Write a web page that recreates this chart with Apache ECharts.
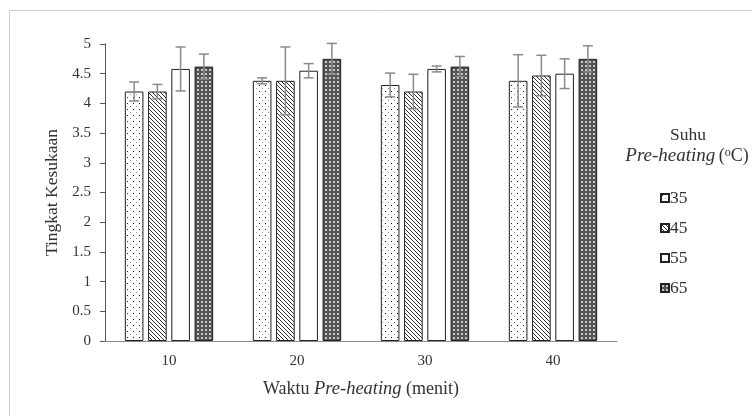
<!DOCTYPE html>
<html>
<head>
<meta charset="utf-8">
<script src="https://cdn.jsdelivr.net/npm/echarts@6/dist/echarts.min.js"></script>
<style>
  html, body { margin: 0; padding: 0; background: #fff; }
  #main { width: 752px; height: 416px; }
</style>
</head>
<body>
<div id="main"></div>
<script>
var categories = ['10', '20', '30', '40'];
var seriesNames = ['35', '45', '55', '65'];
// mean values per temperature, one entry per time category
var val35 = [4.2, 4.38, 4.31, 4.38];
var val45 = [4.2, 4.38, 4.2, 4.47];
var val55 = [4.58, 4.55, 4.58, 4.5];
var val65 = [4.62, 4.75, 4.62, 4.75];
// standard deviation (error bar half length)
var err35 = [0.16, 0.05, 0.2, 0.44];
var err45 = [0.12, 0.57, 0.29, 0.34];
var err55 = [0.37, 0.12, 0.05, 0.25];
var err65 = [0.21, 0.26, 0.17, 0.22];
var yTicks = ['0', '0.5', '1', '1.5', '2', '2.5', '3', '3.5', '4', '4.5', '5'];

var values = [val35, val45, val55, val65];
var errors = [err35, err45, err55, err65];

var FONT = '"Liberation Serif", "DejaVu Serif", serif';
var CAT_GAP = 0.31, BAR_GAP = 0.25;

function makePattern(size, draw) {
    var c = document.createElement('canvas');
    c.width = size; c.height = size;
    var ctx = c.getContext('2d');
    draw(ctx, size);
    return { image: c, repeat: 'repeat' };
}

var patterns = [
    // dotted
    makePattern(6, function (ctx, s) {
        ctx.fillStyle = '#fff'; ctx.fillRect(0, 0, s, s);
        ctx.fillStyle = '#111'; ctx.fillRect(1, 1, 1, 1);
        ctx.fillStyle = '#999'; ctx.fillRect(4, 4, 1, 1);
    }),
    // diagonal hatch "\"
    makePattern(4, function (ctx, s) {
        ctx.fillStyle = '#fff'; ctx.fillRect(0, 0, s, s);
        ctx.strokeStyle = '#333'; ctx.lineWidth = 1;
        ctx.beginPath();
        ctx.moveTo(-1, -1); ctx.lineTo(s + 1, s + 1);
        ctx.moveTo(-s - 1, -1); ctx.lineTo(1, s + 1);
        ctx.moveTo(s - 1, -s - 1); ctx.lineTo(2 * s + 1, s + 1);
        ctx.stroke();
    }),
    '#ffffff',
    // dark plaid
    makePattern(4, function (ctx, s) {
        ctx.fillStyle = '#555'; ctx.fillRect(0, 0, s, s);
        ctx.fillStyle = '#c4c4c4'; ctx.fillRect(1, 1, 2, 2);
    })
];

var barSeries = seriesNames.map(function (name, i) {
    return {
        name: name,
        type: 'bar',
        data: values[i],
        barGap: (BAR_GAP * 100) + '%',
        barCategoryGap: (CAT_GAP * 100) + '%',
        itemStyle: { color: patterns[i], borderColor: '#222', borderWidth: 1 },
        emphasis: { disabled: true }
    };
});

var errData = [];
values.forEach(function (arr, s) {
    arr.forEach(function (v, c) {
        errData.push([c, s, v, errors[s][c]]);
    });
});

var errorSeries = {
    type: 'custom',
    name: 'err',
    z: 10,
    encode: { x: 0, y: 2 },
    data: errData,
    renderItem: function (params, api) {
        var c = api.value(0), s = api.value(1), m = api.value(2), e = api.value(3);
        var mid = api.coord([c, m]);
        var top = api.coord([c, m + e]);
        var bot = api.coord([c, m - e]);
        var band = api.size([1, 0])[0];
        var total = band * (1 - CAT_GAP);
        var w = total / (4 + 3 * BAR_GAP);
        var x = mid[0] - total / 2 + s * w * (1 + BAR_GAP) + w / 2;
        var st = { stroke: '#8a8a8a', lineWidth: 1.5 };
        return {
            type: 'group',
            children: [
                { type: 'line', shape: { x1: x, y1: top[1], x2: x, y2: bot[1] }, style: st },
                { type: 'line', shape: { x1: x - 5, y1: top[1], x2: x + 5, y2: top[1] }, style: st },
                { type: 'line', shape: { x1: x - 5, y1: bot[1], x2: x + 5, y2: bot[1] }, style: st }
            ]
        };
    }
};

var chart = echarts.init(document.getElementById('main'));
chart.setOption({
    animation: false,
    backgroundColor: '#fff',
    textStyle: { fontFamily: FONT },
    grid: { left: 105, right: 135, top: 44, bottom: 75 },
    legend: {
        data: seriesNames,
        orient: 'vertical',
        left: 655,
        top: 184,
        itemWidth: 8,
        itemHeight: 8,
        itemGap: 12,
        icon: 'rect',
        textStyle: { fontFamily: FONT, fontSize: 17.5, color: '#333', padding: [0, 0, 0, -4] }
    },
    xAxis: {
        type: 'category',
        data: categories,
        axisLine: { lineStyle: { color: '#8a8a8a' } },
        axisTick: { show: false },
        axisLabel: { fontFamily: FONT, fontSize: 15, color: '#333', margin: 13 },
        name: '{n|Waktu }{i|Pre-heating}{n| (menit)}',
        nameLocation: 'middle',
        nameGap: 39,
        nameTextStyle: {
            rich: {
                n: { fontFamily: FONT, fontSize: 18, color: '#333' },
                i: { fontFamily: FONT, fontSize: 18.5, color: '#333', fontStyle: 'italic' }
            }
        }
    },
    yAxis: {
        type: 'value',
        min: 0,
        max: 5,
        interval: 0.5,
        axisLine: { show: true, lineStyle: { color: '#555' } },
        axisTick: { show: true, length: 5, lineStyle: { color: '#555' } },
        splitLine: { show: false },
        axisLabel: {
            fontFamily: FONT, fontSize: 15, color: '#333', margin: 14,
            formatter: function (v) {
                var s = String(Math.round(v * 10) / 10);
                return yTicks.indexOf(s) >= 0 ? s : '';
            }
        },
        name: 'Tingkat Kesukaan',
        nameLocation: 'middle',
        nameRotate: 90,
        nameGap: 44,
        nameTextStyle: { fontFamily: FONT, fontSize: 17.5, color: '#333' }
    },
    graphic: [
        {
            type: 'polyline',
            shape: { points: [[9.5, 416], [9.5, 10.5], [752, 10.5]] },
            style: { stroke: '#cfcfcf', lineWidth: 1, fill: null },
            silent: true
        },
        {
            type: 'text', x: 688, y: 135,
            style: {
                text: 'Suhu', font: '17.5px ' + FONT, fill: '#333',
                textAlign: 'center', textVerticalAlign: 'middle'
            },
            silent: true
        },
        {
            type: 'text', x: 687, y: 156,
            style: {
                text: '{i|Pre-heating} {n|(}{s|o}{n|C)}',
                textAlign: 'center', textVerticalAlign: 'middle',
                rich: {
                    i: { fontFamily: FONT, fontSize: 19, fontStyle: 'italic', fill: '#333' },
                    n: { fontFamily: FONT, fontSize: 18, fill: '#333' },
                    s: { fontFamily: FONT, fontSize: 12, fill: '#333', padding: [0, 0, 7, 0] }
                }
            },
            silent: true
        }
    ],
    series: barSeries.concat([errorSeries])
});
</script>
</body>
</html>
